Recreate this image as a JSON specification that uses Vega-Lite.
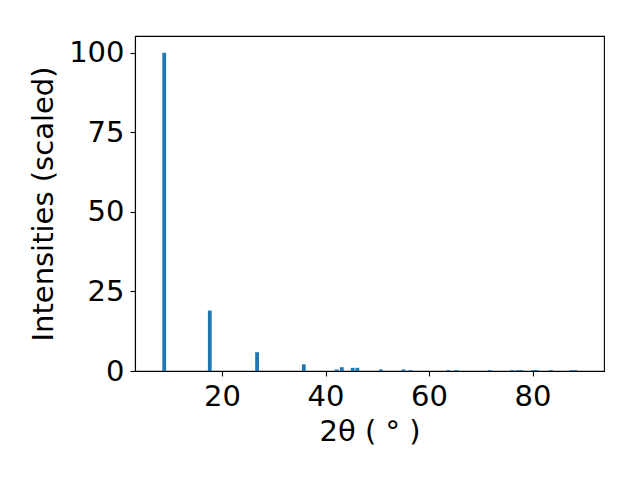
{
  "$schema": "https://vega.github.io/schema/vega-lite/v6.json",
  "autosize": "none",
  "width": 469,
  "height": 335,
  "padding": {"left": 135, "top": 36, "right": 36, "bottom": 109},
  "background": "white",
  "config": {
    "view": {"stroke": "black", "strokeWidth": 1.1},
    "font": "DejaVu Sans",
    "axis": {
      "grid": false,
      "domainColor": "black",
      "domainWidth": 1.1,
      "tickColor": "black",
      "tickWidth": 1.1,
      "tickSize": 5,
      "labelPadding": 6,
      "labelFont": "DejaVu Sans",
      "labelFontSize": 29,
      "labelColor": "black",
      "titleFont": "DejaVu Sans",
      "titleFontSize": 29,
      "titleFontWeight": "normal",
      "titleColor": "black"
    }
  },
  "data": {
    "values": [
      {"two_theta": 8.84, "intensity": 100},
      {"two_theta": 17.64, "intensity": 19.0},
      {"two_theta": 26.78, "intensity": 5.9},
      {"two_theta": 35.81, "intensity": 2.1},
      {"two_theta": 42.15, "intensity": 0.5},
      {"two_theta": 43.15, "intensity": 1.2},
      {"two_theta": 45.25, "intensity": 1.0},
      {"two_theta": 46.15, "intensity": 1.0},
      {"two_theta": 50.7, "intensity": 0.5},
      {"two_theta": 55.05, "intensity": 0.5},
      {"two_theta": 56.45, "intensity": 0.3},
      {"two_theta": 63.75, "intensity": 0.3},
      {"two_theta": 65.25, "intensity": 0.3},
      {"two_theta": 71.7, "intensity": 0.3},
      {"two_theta": 76.05, "intensity": 0.3},
      {"two_theta": 77.15, "intensity": 0.3},
      {"two_theta": 77.85, "intensity": 0.3},
      {"two_theta": 80.05, "intensity": 0.3},
      {"two_theta": 80.75, "intensity": 0.3},
      {"two_theta": 83.55, "intensity": 0.3},
      {"two_theta": 87.55, "intensity": 0.3},
      {"two_theta": 88.25, "intensity": 0.3}
    ]
  },
  "mark": {"type": "bar", "size": 3.8, "color": "#1f77b4"},
  "encoding": {
    "x": {
      "field": "two_theta",
      "type": "quantitative",
      "scale": {"domain": [4.16, 92.84], "nice": false, "zero": false},
      "axis": {"values": [20, 40, 60, 80], "title": "2θ ( ° )", "titlePadding": 6}
    },
    "y": {
      "field": "intensity",
      "type": "quantitative",
      "scale": {"domain": [0, 105.3], "nice": false},
      "axis": {"values": [0, 25, 50, 75, 100], "title": "Intensities (scaled)", "titlePadding": 10}
    }
  }
}
